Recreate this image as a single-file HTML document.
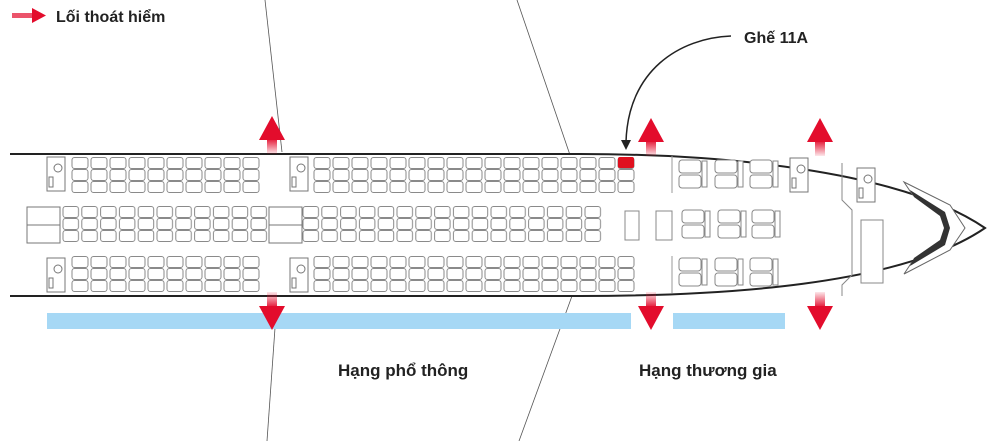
<!DOCTYPE html>
<html><head><meta charset="utf-8"><style>
html,body{margin:0;padding:0;background:#fff;}
svg{display:block;}
text{font-family:"Liberation Sans","DejaVu Sans",sans-serif;font-weight:bold;fill:#222;}
</style></head><body>
<svg width="1000" height="441" viewBox="0 0 1000 441" xmlns="http://www.w3.org/2000/svg">
<defs>
<pattern id="seat" x="0" y="0" width="19" height="12" patternUnits="userSpaceOnUse">
<rect x="1" y="0.5" width="16" height="11" rx="2.5" fill="#fff" stroke="#8a8a8a" stroke-width="1"/>
</pattern>
<pattern id="seatm" x="0" y="0" width="18.8" height="12" patternUnits="userSpaceOnUse">
<rect x="1" y="0.5" width="15.5" height="11" rx="2.5" fill="#fff" stroke="#8a8a8a" stroke-width="1"/>
</pattern>
<linearGradient id="gu" x1="0" y1="0" x2="0" y2="1"><stop offset="0" stop-color="#e30c2c"/><stop offset="1" stop-color="#e30c2c" stop-opacity="0.1"/></linearGradient>
<linearGradient id="gd" x1="0" y1="1" x2="0" y2="0"><stop offset="0" stop-color="#e30c2c"/><stop offset="1" stop-color="#e30c2c" stop-opacity="0.1"/></linearGradient>
<g id="up"><rect x="-5" y="22" width="10" height="16" fill="url(#gu)"/><polygon points="0,0 13,24 -13,24" fill="#e30c2c"/></g>
<g id="dn"><rect x="-5" y="0" width="10" height="16" fill="url(#gd)"/><polygon points="0,38 13,14 -13,14" fill="#e30c2c"/></g>
<g id="bseat"><rect x="0" y="0" width="22" height="13" rx="3" fill="#fff" stroke="#888"/><rect x="0" y="15" width="22" height="13" rx="3" fill="#fff" stroke="#888"/><rect x="23" y="1" width="5" height="26" fill="#fff" stroke="#888"/></g>
<g id="lav"><rect x="0" y="0" width="18" height="34" fill="#fff" stroke="#777"/><circle cx="11" cy="11" r="4" fill="none" stroke="#777"/><rect x="2" y="20" width="4" height="10" fill="none" stroke="#777"/></g>
</defs>
<rect x="0" y="0" width="1000" height="441" fill="#fff"/>
<line x1="265" y1="0" x2="282" y2="152" stroke="#555" stroke-width="0.8"/>
<line x1="275" y1="328" x2="267" y2="441" stroke="#555" stroke-width="0.8"/>
<line x1="517" y1="0" x2="570" y2="155" stroke="#555" stroke-width="0.8"/>
<line x1="572" y1="296" x2="519" y2="441" stroke="#555" stroke-width="0.8"/>
<rect x="12" y="13" width="22" height="5" fill="#e30c2c" opacity="0.7"/>
<polygon points="46,15.5 32,8 32,23" fill="#e30c2c"/>
<text x="56" y="22" font-size="16">Lối thoát hiểm</text>
<path d="M10,154 L580,154 C720,154 900,170 985,228 C900,286 720,296 580,296 L10,296" fill="none" stroke="#222" stroke-width="2"/>
<use href="#lav" x="47" y="157"/>
<use href="#lav" x="47" y="258"/>
<use href="#lav" x="290" y="157"/>
<use href="#lav" x="290" y="258"/>
<rect x="27" y="207" width="33" height="36" fill="#fff" stroke="#777"/>
<line x1="27" y1="225" x2="60" y2="225" stroke="#777"/>
<rect x="269" y="207" width="33" height="36" fill="#fff" stroke="#777"/>
<line x1="269" y1="225" x2="302" y2="225" stroke="#777"/>
<g transform="translate(71,157)"><rect width="190" height="36" fill="url(#seat)"/></g>
<g transform="translate(71,256)"><rect width="190" height="36" fill="url(#seat)"/></g>
<g transform="translate(62,206)"><rect width="206" height="36" fill="url(#seatm)"/></g>
<g transform="translate(313,157)"><rect width="323" height="36" fill="url(#seat)"/></g>
<g transform="translate(313,256)"><rect width="323" height="36" fill="url(#seat)"/></g>
<g transform="translate(302,206)"><rect width="301" height="36" fill="url(#seatm)"/></g>
<rect x="618" y="157" width="16" height="11" rx="2" fill="#e0101f"/>
<rect x="625" y="211" width="14" height="29" fill="#fff" stroke="#888"/>
<rect x="656" y="211" width="16" height="29" fill="#fff" stroke="#888"/>
<line x1="672" y1="156" x2="672" y2="193" stroke="#999"/>
<line x1="672" y1="256" x2="672" y2="293" stroke="#999"/>
<use href="#bseat" x="679" y="160"/><use href="#bseat" x="715" y="160"/><use href="#bseat" x="750" y="160"/>
<use href="#bseat" x="682" y="210"/><use href="#bseat" x="718" y="210"/><use href="#bseat" x="752" y="210"/>
<use href="#bseat" x="679" y="258"/><use href="#bseat" x="715" y="258"/><use href="#bseat" x="750" y="258"/>
<use href="#lav" x="790" y="158"/>
<use href="#lav" x="857" y="168"/>
<path d="M842,163 L842,200 L852,210 L852,275 L842,285 L842,296" fill="none" stroke="#888"/>
<rect x="861" y="220" width="22" height="63" fill="#fff" stroke="#888"/>
<path d="M904,182 L950,205 L965,228 L950,250 L904,274 L912,262 L942,240 L948,228 L942,216 L912,194 Z" fill="#fff" stroke="#666"/>
<path d="M910,190 L945,212 L950,228 L945,245 L910,266 L914,258 L940,240 L944,228 L940,216 L914,197 Z" fill="#333"/>
<rect x="47" y="313" width="584" height="16" fill="#a6d8f5"/>
<rect x="673" y="313" width="112" height="16" fill="#a6d8f5"/>
<use href="#up" x="272" y="116"/><use href="#dn" x="272" y="292"/>
<use href="#up" x="651" y="118"/><use href="#dn" x="651" y="292"/>
<use href="#up" x="820" y="118"/><use href="#dn" x="820" y="292"/>
<path d="M731,36 C680,38 628,70 626,142" fill="none" stroke="#222" stroke-width="1.5"/>
<polygon points="626,150 621,140 631,140" fill="#222"/>
<text x="744" y="43" font-size="16">Ghế 11A</text>
<text x="338" y="376" font-size="17">Hạng phổ thông</text>
<text x="639" y="376" font-size="17">Hạng thương gia</text>
</svg>
</body></html>
